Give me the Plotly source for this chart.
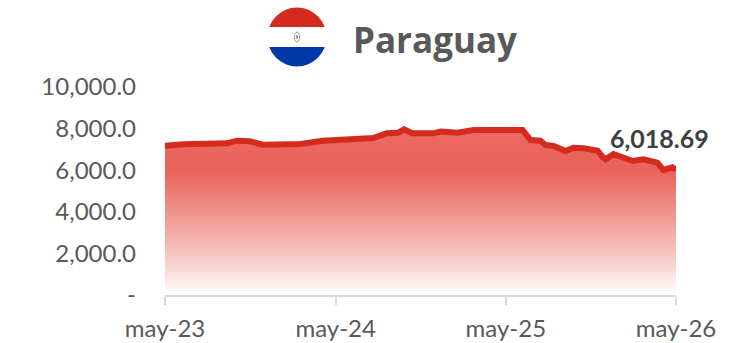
import base64
import plotly.graph_objects as go

title = "Paraguay"
dates = ["2023-05-01","2023-06-09","2023-09-11","2023-10-02","2023-10-30","2023-11-27","2024-02-15","2024-04-04",
         "2024-07-20","2024-08-19","2024-09-12","2024-09-25","2024-10-12","2024-11-27","2024-12-12","2025-01-17",
         "2025-02-21","2025-06-06","2025-06-23","2025-07-14","2025-07-25","2025-08-11","2025-09-06","2025-09-23",
         "2025-10-15","2025-11-14","2025-11-24","2025-12-01","2025-12-18","2026-01-28","2026-02-20","2026-03-22",
         "2026-04-04","2026-04-23","2026-05-01"]
values = [7178,7245,7293,7418,7390,7226,7260,7418,
          7548,7774,7803,7967,7774,7774,7860,7803,
          7933,7933,7452,7418,7212,7164,6923,7082,
          7053,6938,6649,6524,6779,6442,6524,6361,
          6010,6140,6018.69]
x_ticks = ["2023-05-01","2024-05-01","2025-05-01","2026-05-01"]
x_labels = ["may-23","may-24","may-25","may-26"]
y_ticks = [0,2000,4000,6000,8000,10000]
y_labels = ["-","2,000.0","4,000.0","6,000.0","8,000.0","10,000.0"]
last_label = "6,018.69"

W, H = 733, 343
GREY = "#595959"
FONT = "Lato"

flag = """<svg xmlns='http://www.w3.org/2000/svg' width='120' height='120' viewBox='0 0 60 60'>
<defs><clipPath id='c'><circle cx='30' cy='30' r='29.5'/></clipPath></defs>
<g clip-path='url(#c)'><rect width='60' height='20' fill='#D52B1E'/>
<rect y='20' width='60' height='20' fill='#ffffff'/><rect y='40' width='60' height='20' fill='#0038A8'/></g>
<ellipse cx='30' cy='30' rx='2.6' ry='4.8' fill='none' stroke='#555' stroke-width='1' stroke-dasharray='1 0.6'/>
<ellipse cx='30' cy='30' rx='0.9' ry='2' fill='#8a8a5a'/></svg>"""
flag_uri = "data:image/svg+xml;base64," + base64.b64encode(flag.encode()).decode()

fig = go.Figure(go.Scatter(
    x=dates, y=values, mode="lines",
    line=dict(color="#D52B1E", width=6, shape="linear"),
    fill="tozeroy",
    fillgradient=dict(type="vertical", start=0, stop=max(values),
                      colorscale=[[0, "rgba(255,255,255,1)"], [0.25, "#F6C4C0"],
                                  [0.75, "#E9635A"], [1, "#EA6A61"]]),
    hoverinfo="skip"))

fig.add_annotation(x=dates[-1], y=values[-1], text=f"<b>{last_label}</b>", showarrow=False,
                   xref="x", yref="y", xanchor="center", yanchor="middle", xshift=-17, yshift=32,
                   font=dict(family=FONT, size=25, color="#404040"))
fig.add_annotation(x=435/W, y=1-40/H, xref="paper", yref="paper", text=f"<b>{title}</b>", showarrow=False,
                   xanchor="center", yanchor="middle", font=dict(family="Open Sans", size=35, color=GREY))
fig.add_layout_image(source=flag_uri, xref="paper", yref="paper", x=267/W, y=1-7/H,
                     sizex=60/W, sizey=60/H, sizing="contain", xanchor="left", yanchor="top", layer="above")

fig.update_layout(
    width=W, height=H, margin=dict(l=0, r=0, t=0, b=0),
    paper_bgcolor="white", plot_bgcolor="white", showlegend=False,
    font=dict(family=FONT, color=GREY, size=24),
    xaxis=dict(domain=[165/W, 676/W], range=[x_ticks[0], x_ticks[-1]], type="date", automargin=False,
               tickvals=x_ticks, ticktext=x_labels, showgrid=False, zeroline=False,
               showline=True, linecolor="#D9D9D9", linewidth=2,
               ticks="outside", ticklen=8, tickcolor="#D9D9D9", tickwidth=2, ticklabelstandoff=3,
               tickfont=dict(family=FONT, size=24, color=GREY), anchor="y"),
    yaxis=dict(domain=[1-295/H, 1-87/H], range=[0, 10000], automargin=False,
               tickvals=y_ticks, ticktext=y_labels, showgrid=False, zeroline=False,
               showline=False, ticks="", ticklabelstandoff=28,
               tickfont=dict(family=FONT, size=24, color=GREY), anchor="x"),
)
fig.write_html("out.html", config={"displayModeBar": False},
               post_script="document.body.style.margin='0';document.documentElement.style.overflow='hidden';")
